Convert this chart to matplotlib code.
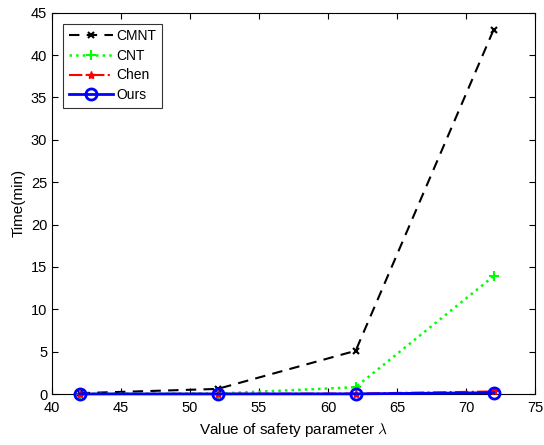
import matplotlib
matplotlib.use('Agg')
import matplotlib.pyplot as plt

plt.rcParams['font.family'] = ['Liberation Sans', 'DejaVu Sans']
plt.rcParams['mathtext.fontset'] = 'cm'

# safety parameter values and running times (min)
lam = [42, 52, 62, 72]
cmnt = [0.1, 0.6, 5.1, 43.0]
cnt = [0.02, 0.05, 0.8, 13.9]
chen = [0.0, 0.02, 0.05, 0.3]
ours = [0.01, 0.01, 0.02, 0.15]

fig = plt.figure(figsize=(5.44, 4.45), dpi=100)
ax = fig.add_axes([0.0956, 0.1146, 0.888, 0.857])

ax.plot(lam, cmnt, 'k--', marker='x', markersize=5, markeredgewidth=1.5, lw=1.5, dashes=(5, 3.5),
        label='CMNT', clip_on=False, zorder=3)
ax.plot(lam, cnt, ':', color='#00ff00', marker='+', markersize=7, markeredgewidth=1.5, lw=1.8,
        label='CNT', clip_on=False, zorder=3)
ax.plot(lam, chen, '-.', color='red', marker='*', markersize=6, lw=1.5, label='Chen',
        clip_on=False, zorder=4)
ax.plot(lam, ours, '-', color='blue', marker='o', markersize=8, markerfacecolor='none',
        markeredgewidth=2, lw=2, label='Ours', clip_on=False, zorder=5)

ax.set_xlim(40, 75)
ax.set_ylim(0, 45)
ax.set_xticks(range(40, 76, 5))
ax.set_yticks(range(0, 46, 5))
ax.tick_params(direction='in', top=True, right=True, labelsize=10.5, length=4)
ax.tick_params(axis='x', pad=5)
ax.set_xlabel(r'Value of safety parameter $\lambda$', fontsize=11)
ax.set_ylabel('Time(min)', fontsize=11)

leg = ax.legend(loc='upper left', fontsize=10, fancybox=False, edgecolor='black',
                handlelength=3.2, borderaxespad=0.8, labelspacing=0.4,
                handletextpad=0.25, borderpad=0.4)
leg.get_frame().set_linewidth(0.8)
leg.set_zorder(10)

fig.savefig('out.png', dpi=100)
